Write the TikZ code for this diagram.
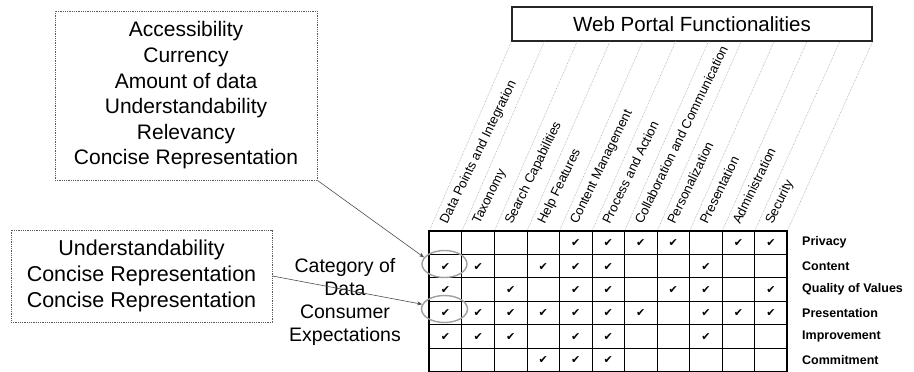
\documentclass[tikz,border=0pt]{standalone}
\usepackage{fontspec}
\setmainfont{Liberation Sans}
\newfontfamily\symfont{DejaVu Sans}
\usetikzlibrary{shapes.geometric,arrows.meta,calc}
\begin{document}
\begin{tikzpicture}[x=1pt,y=-1pt,
  qbox/.style={draw=gray!70!black, densely dotted, line width=0.8pt, inner sep=0pt, align=center},
  bigtxt/.style={font=\fontsize{21}{25.6}\selectfont},
  wpbox/.style={draw=gray!30!black, line width=1.2pt, inner sep=0pt, font=\fontsize{20.5}{24}\selectfont},
  collab/.style={rotate=64, anchor=base west, inner sep=0pt, font=\fontsize{13}{13}\selectfont},
  rowlab/.style={anchor=west, inner sep=0pt, font=\bfseries\fontsize{12.5}{13}\selectfont},
  chk/.style={inner sep=0pt, font=\symfont\fontsize{11}{11}\selectfont},
  ell/.style={draw=gray!75, line width=1.4pt, ellipse, inner sep=0pt},
  arr/.style={-{Stealth[length=5pt,width=4pt]}, draw=gray!60!black, line width=0.6pt},
  guide/.style={draw=gray!70, densely dotted, line width=0.6pt},
  thin/.style={line width=0.7pt},
  mid/.style={line width=1.3pt}]
\useasboundingbox (0,0) rectangle (914,372);

% left boxes
\node[qbox, bigtxt, minimum width=262pt, minimum height=169pt] (b1) at (186,95.5)
  {Accessibility\\Currency\\Amount of data\\Understandability\\Relevancy\\Concise Representation};
\node[qbox, font=\fontsize{21.5}{26}\selectfont, minimum width=261pt, minimum height=92pt] (b2) at (141.5,276)
  {Understandability\\Concise Representation\\Concise Representation};
\node[align=center, inner sep=0pt, font=\fontsize{19.5}{23}\selectfont] (cat) at (345,302)
  {Category of\\Data\\Consumer\\Expectations};

% title box
\node[wpbox, minimum width=360pt, minimum height=34pt] (wp) at (692,24) {Web Portal Functionalities};

% table grid
\foreach \r in {1,...,5} {
  \coordinate (hl\r) at (429.3,{231+23.4*\r});
  \coordinate (hr\r) at (787.2,{231+23.4*\r});
}
\foreach \r in {1,2,4,5} \draw[thin] (hl\r) -- (hr\r);
\draw[mid] (hl3) -- (hr3);
\foreach \i in {0,...,11} {
  \coordinate (t\i) at ({429.3+32.54*\i},231);
  \coordinate (u\i) at ({429.3+32.54*\i},371.4);
  \coordinate (w\i) at ($(wp.south west)!{\i/11}!(wp.south east)$);
  \draw[guide] (t\i) -- (w\i);
}
\foreach \i in {1,2,3,4,5,7,8,10} \draw[thin] (t\i) -- (u\i);
\foreach \i in {6,9} \draw[mid] (t\i) -- (u\i);
\draw[line width=1.7pt] (t0) rectangle (u11);

% column labels
\foreach \c/\t in {1/Data Points and Integration, 2/Taxonomy, 3/Search Capabilities,
  4/Help Features, 5/Content Management, 6/Process and Action,
  7/Collaboration and Communication, 8/Personalization, 9/Presentation,
  10/Administration, 11/Security}
  \node[collab] (c\c) at ({429.3+32.54*(\c-0.5)+1.5},225) {\t};

% row labels
\foreach \r/\t in {1/Privacy, 2/Content, 3/Quality of Values, 4/Presentation, 5/Improvement, 6/Commitment}
  \node[rowlab] (r\r) at (802,{231+23.4*(\r-0.5)}) {\t};

% check marks
\foreach \r/\cols in {1/{5,6,7,8,10,11}, 2/{1,2,4,5,6,9}, 3/{1,3,5,6,8,9,11},
  4/{1,2,3,4,5,6,7,9,10,11}, 5/{1,2,3,5,6,9}, 6/{4,5,6}} {
  \foreach \c in \cols
    \node[chk] (k\r-\c) at ({429.3+32.54*(\c-0.5)},{231+23.4*(\r-0.5)+0.5}) {✔};
}

% ellipses and arrows
\node[ell, minimum width=45pt, minimum height=27pt] (e1) at (444.5,264) {};
\node[ell, minimum width=46pt, minimum height=27pt] (e2) at (444.5,309) {};
\draw[arr] (b1.south east) -- (e1.162);
\draw[arr] (b2.east) -- (e2.168);
\end{tikzpicture}
\end{document}
